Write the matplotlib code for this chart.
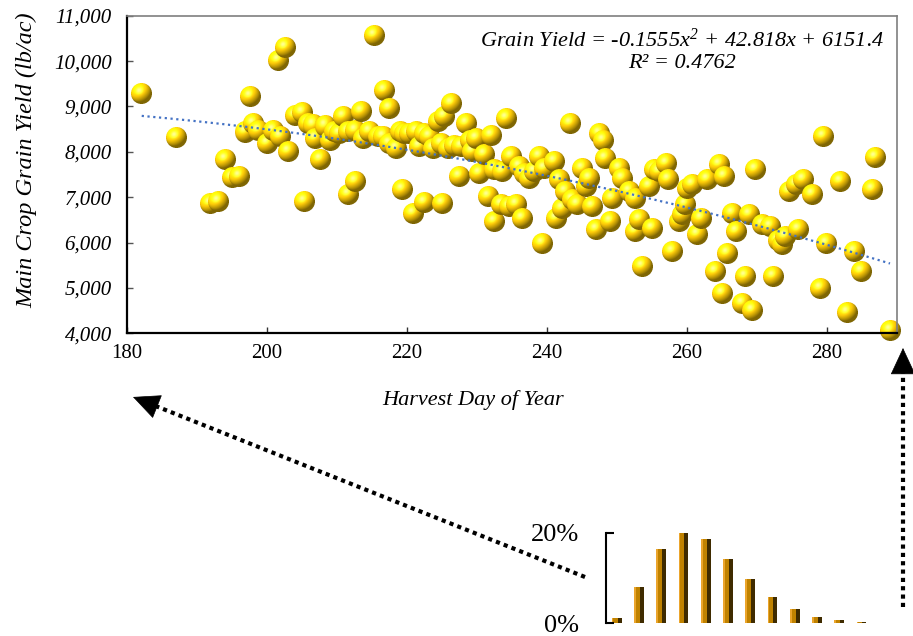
import numpy as np
import matplotlib
matplotlib.use("Agg")
import matplotlib.pyplot as plt
from matplotlib.offsetbox import OffsetImage, AnnotationBbox

plt.rcParams['font.family'] = 'Liberation Serif'
plt.rcParams['mathtext.fontset'] = 'custom'
plt.rcParams['mathtext.it'] = 'Liberation Serif:italic'
plt.rcParams['mathtext.rm'] = 'Liberation Serif:italic'

# Harvest day of year and main crop grain yield (lb/ac)
harvest_day = [182.1, 187.0, 191.9, 193.0, 194.0, 195.0, 196.1, 196.9, 197.6, 198.1,
               198.8, 200.0, 200.9, 201.6, 201.9, 202.6, 203.0, 204.0, 205.0, 205.4,
               205.9, 206.6, 206.9, 207.6, 208.3, 209.0, 209.7, 210.4, 210.9, 211.6,
               211.6, 212.6, 212.6, 213.5, 213.8, 214.7, 215.4, 215.9, 216.6, 216.8,
               217.5, 217.5, 218.5, 219.0, 219.4, 219.7, 220.4, 220.9, 221.3, 221.8,
               222.5, 222.5, 223.2, 223.8, 224.5, 224.9, 225.1, 225.4, 225.9, 226.3,
               226.8, 227.5, 227.8, 228.5, 229.0, 229.4, 229.9, 230.4, 231.1, 231.6,
               232.0, 232.5, 232.5, 233.5, 233.7, 234.2, 234.7, 234.9, 235.6, 236.0,
               236.5, 236.8, 237.5, 238.2, 238.9, 239.4, 239.6, 241.0, 241.3, 241.8,
               242.2, 242.7, 243.4, 243.7, 244.4, 245.1, 245.6, 246.0, 246.5, 247.0,
               247.5, 248.0, 248.4, 249.1, 249.4, 250.3, 250.8, 251.8, 252.7, 252.7,
               253.2, 253.7, 254.6, 255.0, 255.3, 256.0, 257.0, 257.4, 257.9, 258.9,
               259.3, 259.8, 260.0, 260.8, 261.5, 262.0, 262.9, 264.1, 264.6, 265.0,
               265.4, 265.8, 266.5, 267.0, 267.9, 268.4, 268.9, 269.3, 269.8, 270.8,
               271.9, 272.4, 273.0, 273.6, 274.0, 274.7, 275.7, 275.9, 276.6, 277.9,
               279.0, 279.5, 279.9, 281.9, 282.9, 283.9, 284.9, 286.5, 286.9, 289.0]
grain_yield = [9290, 8310, 6860, 6915, 7840, 7440, 7450, 8430, 9210, 8630,
               8480, 8190, 8480, 10020, 8330, 10300, 8000, 8810, 8870, 6900,
               8630, 8590, 8300, 7820, 8550, 8260, 8440, 8410, 8770, 8440,
               7050, 8480, 7340, 8880, 8300, 8440, 10560, 8330, 8330, 9360,
               8960, 8190, 8080, 8440, 7180, 8410, 8410, 6630, 8440, 8110,
               8410, 6890, 8330, 8080, 8660, 8190, 6860, 8770, 8080, 9070,
               8150, 7450, 8110, 8630, 8260, 8000, 8300, 7525, 7930, 7010,
               8370, 7600, 6460, 6830, 7560, 8740, 6790, 7890, 6830, 7670,
               6530, 7525, 7415, 7560, 7890, 5980, 7635, 7780, 6530, 7380,
               6750, 7120, 8630, 6940, 6830, 7635, 7230, 7415, 6790, 6280,
               8410, 8260, 7855, 6460, 6975, 7635, 7415, 7120, 6975, 6240,
               6500, 5470, 7230, 6310, 7600, 7560, 7745, 7380, 5800, 6460,
               6610, 6830, 7195, 7270, 6170, 6530, 7380, 5360, 7710, 4880,
               7450, 5750, 6645, 6250, 4660, 5250, 6610, 4510, 7600, 6390,
               6350, 5250, 6050, 5960, 6130, 7135, 7270, 6280, 7400, 7060,
               4990, 8330, 5980, 7355, 4460, 5800, 5360, 7180, 7870, 4070]

# quadratic trend: a*x^2 + b*x + c
trend_coef = [-0.1555, 42.818, 6151.4]
r_squared = 0.4762

x_ticks = [180, 200, 220, 240, 260, 280]
y_ticks = [4000, 5000, 6000, 7000, 8000, 9000, 10000, 11000]

# share of fields per bin (%) for the small histogram
hist_share = [1.1, 8.1, 16.3, 19.9, 18.5, 14.3, 9.8, 5.9, 3.1, 1.5, 0.7, 0.2]


def sphere_sprite(diam=21, ss=4):
    # shaded golden ball, supersampled then averaged down
    n = diam * ss
    c = (np.arange(n) + 0.5) / n * 2 - 1
    u, v = np.meshgrid(c, -c)
    r2 = u ** 2 + v ** 2
    inside = (r2 <= 1).astype(float)
    w = np.sqrt(np.clip(1 - r2, 0, 1))
    L = np.array([-0.45, 0.6, 0.7])
    L = L / np.linalg.norm(L)
    diff = np.clip(u * L[0] + v * L[1] + w * L[2], 0, 1)
    H = L + np.array([0, 0, 1.0])
    H = H / np.linalg.norm(H)
    spec = np.clip(u * H[0] + v * H[1] + w * H[2], 0, 1) ** 22
    base = np.array([1.0, 0.8, 0.03])
    rgb = base * (0.5 + 0.78 * diff)[..., None] + 0.55 * spec[..., None]
    rgb = np.clip(rgb, 0, 1)
    rgba = np.dstack([rgb * inside[..., None], inside])
    rgba = rgba.reshape(diam, ss, diam, ss, 4).mean(axis=(1, 3))
    a = rgba[..., 3]
    rgb = rgba[..., :3] / np.maximum(a, 1e-6)[..., None]
    return np.dstack([rgb, a])


fig = plt.figure(figsize=(9.13, 6.36), dpi=100)
W, Hh = 913, 636

# main scatter axes
ax = fig.add_axes([127 / W, 1 - 333.3 / Hh, 770 / W, 317.6 / Hh])
ax.set_xlim(180, 290)
ax.set_ylim(4000, 11000)

ball = sphere_sprite()
for xd, yd in zip(harvest_day, grain_yield):
    ab = AnnotationBbox(OffsetImage(ball, zoom=1, dpi_cor=False), (xd, yd),
                        frameon=False, pad=0, xycoords='data', zorder=2)
    ax.add_artist(ab)

xs = np.linspace(min(harvest_day), max(harvest_day), 200)
ax.plot(xs, np.polyval(trend_coef, xs), color='#4472C4', lw=1.6,
        ls=(0, (1, 1.6)), zorder=4)

ax.set_xticks(x_ticks, labels=[str(v) for v in x_ticks], fontsize=15)
ax.set_yticks(y_ticks, labels=[f'{v:,}' for v in y_ticks], fontsize=15,
              fontstyle='italic')
ax.tick_params(axis='x', direction='in', length=4, width=1, color='#333333', pad=8)
ax.tick_params(axis='y', direction='in', length=4.5, width=1, color='#555555', pad=11)
for side in ('left', 'bottom'):
    ax.spines[side].set_linewidth(1.6)
    ax.spines[side].set_color('black')
for side in ('top', 'right'):
    ax.spines[side].set_linewidth(1.2)
    ax.spines[side].set_color('#7f7f7f')

eq = (r'Grain Yield = -0.1555$x^{2}$ + 42.818$x$ + 6151.4')
ax.text(0.7208, 0.9235, eq, transform=ax.transAxes, ha='center', va='center',
        fontsize=16, fontstyle='italic', zorder=5)
ax.text(0.7208, 0.851, f'R² = {r_squared}', transform=ax.transAxes, ha='center',
        va='center', fontsize=16, fontstyle='italic', zorder=5)

fig.text(473 / W, 1 - 400 / Hh, 'Harvest Day of Year', ha='center', va='center',
         fontsize=16, fontstyle='italic')
fig.text(27 / W, 1 - 160 / Hh, 'Main Crop Grain Yield (lb/ac)', ha='center',
         va='center', rotation=90, fontsize=17.5, fontstyle='italic')

# small histogram in the lower right
ax2 = fig.add_axes([605.7 / W, 1 - 623.3 / Hh, 267 / W, 90.6 / Hh])
pos = np.arange(len(hist_share))
ax2.bar(pos, hist_share, width=0.44, color='#C08200', edgecolor='none')
ax2.bar(pos - 0.18, hist_share, width=0.08, color='#EBA52C', edgecolor='none')
ax2.bar(pos + 0.13, hist_share, width=0.18, color='#3F2B00', edgecolor='none')
ax2.set_xlim(-0.49, 11.5)
ax2.set_ylim(0, 20)
ax2.set_xticks([])
ax2.set_yticks([0, 20], labels=['0%', '20%'], fontsize=19)
ax2.tick_params(axis='y', direction='in', length=5.5, width=1.5, pad=19)
for side in ('top', 'right', 'bottom'):
    ax2.spines[side].set_visible(False)
ax2.spines['left'].set_linewidth(1.5)
ax2.patch.set_alpha(0)

# dotted pointer arrows on a full-figure overlay
ov = fig.add_axes([0, 0, 1, 1])
ov.set_xlim(0, W)
ov.set_ylim(Hh, 0)
ov.axis('off')
ov.patch.set_alpha(0)


def dotted_arrow(start, end, head=18):
    s = np.array(start, float)
    e = np.array(end, float)
    d = (e - s) / np.linalg.norm(e - s)
    stop = e - d * head
    ov.plot([s[0], stop[0]], [s[1], stop[1]], color='black', lw=3,
            ls=(0, (1, 1)), solid_capstyle='butt', dash_capstyle='butt')
    ov.annotate('', xy=e, xytext=stop + d * 2,
                arrowprops=dict(arrowstyle='-|>,head_length=0.9,head_width=0.42',
                                color='black', lw=0.5, shrinkA=0, shrinkB=0,
                                mutation_scale=20))


dotted_arrow((585, 577), (133, 397))
dotted_arrow((903, 607), (903, 348))

fig.savefig('out.png', dpi=100)
